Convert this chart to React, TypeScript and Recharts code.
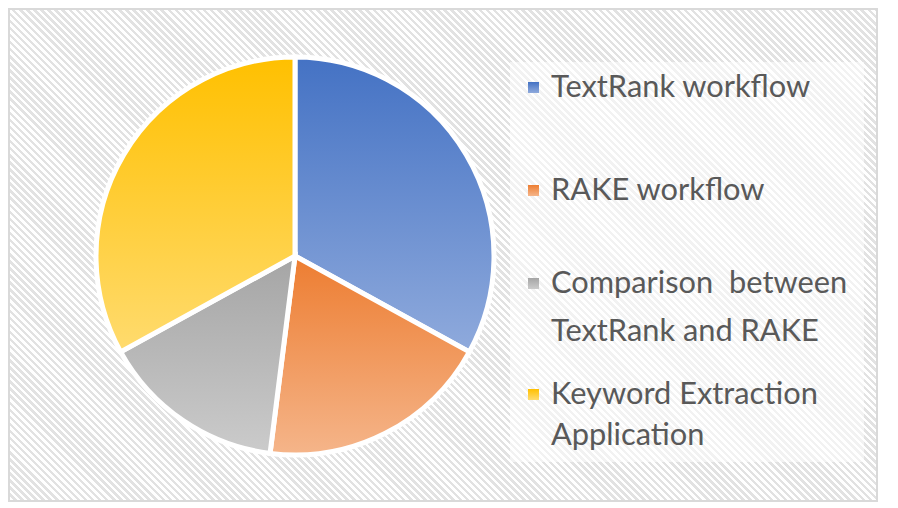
import { PieChart, Pie, Cell, Legend } from 'recharts';

// share of each part
const parts = ['TextRank workflow', 'RAKE workflow', 'Comparison  between TextRank and RAKE', 'Keyword Extraction Application'];
const shares = [33, 19, 15, 33];
// legend lines: long labels wrap in two
const legendLines = [['TextRank workflow'], ['RAKE workflow'], ['Comparison  between', 'TextRank and RAKE'], ['Keyword Extraction', 'Application']];
const topColors = ['#4472C4', '#ED7D31', '#A5A5A5', '#FFC000'];
const bottomColors = ['#8FAADC', '#F5B58A', '#CBCBCB', '#FFDB6E'];

const data = parts.map((name, i) => ({ name, value: shares[i] }));

// baselines of each legend line, relative to the legend box
const baselines = [[35], [138], [231, 279], [342, 383]];

function LegendBox() {
  return (
    <svg width={354} height={400} style={{ display: 'block' }}>
      <defs>
        {topColors.map((c, i) => (
          <linearGradient key={i} id={`lg${i}`} x1="0" y1="0" x2="0" y2="1">
            <stop offset="0%" stopColor={c} />
            <stop offset="100%" stopColor={bottomColors[i]} />
          </linearGradient>
        ))}
      </defs>
      <rect x={0} y={0} width={354} height={400} fill="#fff" fillOpacity={0.55} />
      {legendLines.map((lines, i) => (
        <g key={i}>
          <rect x={18} y={baselines[i][0] - 15} width={11} height={11} fill={`url(#lg${i})`} />
          {lines.map((t, j) => (
            <text
              key={j}
              x={41}
              y={baselines[i][j]}
              fill="#595959"
              fontSize={30.8}
              fontFamily="Lato, 'Open Sans', sans-serif"
              style={{ whiteSpace: 'pre' }}
            >
              {t}
            </text>
          ))}
        </g>
      ))}
    </svg>
  );
}

export default function App() {
  return (
    <div
      style={{
        width: 866,
        height: 490,
        border: '2px solid #D9D9D9',
        position: 'relative',
        background: 'repeating-linear-gradient(45deg, #ffffff 0px, #ffffff 2.5px, #e2e2e2 2.5px, #e2e2e2 5px)',
      }}
    >
      <PieChart width={866} height={490}>
        <defs>
          {topColors.map((c, i) => (
            <linearGradient key={i} id={`g${i}`} x1="0" y1="0" x2="0" y2="1">
              <stop offset="0%" stopColor={c} />
              <stop offset="100%" stopColor={bottomColors[i]} />
            </linearGradient>
          ))}
        </defs>
        <Pie
          data={data}
          dataKey="value"
          nameKey="name"
          cx={280}
          cy={241}
          outerRadius={199}
          startAngle={90}
          endAngle={-270}
          stroke="#fff"
          strokeWidth={5}
          isAnimationActive={false}
        >
          {data.map((d, i) => (
            <Cell key={d.name} fill={`url(#g${i})`} />
          ))}
        </Pie>
        <Legend
          content={() => <LegendBox />}
          wrapperStyle={{ position: 'absolute', left: 500, top: 52, width: 354, height: 400 }}
        />
      </PieChart>
    </div>
  );
}
